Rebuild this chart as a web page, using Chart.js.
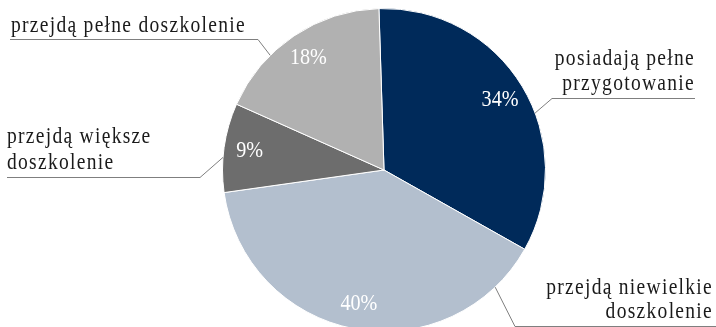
<!DOCTYPE html>
<html>
<head>
<meta charset="utf-8">
<script src="https://cdn.jsdelivr.net/npm/chart.js@4"></script>
<style>
  html, body { margin: 0; padding: 0; overflow: hidden; background: #fff; width: 716px; height: 327px; }
  #wrap { position: relative; width: 716px; height: 340px; }
</style>
</head>
<body>
<div id="wrap"><canvas id="c"></canvas></div>
<script>
// Slices, clockwise from the top
const categories = [
  'posiadają pełne przygotowanie',
  'przejdą niewielkie doszkolenie',
  'przejdą większe doszkolenie',
  'przejdą pełne doszkolenie'
];
const shares = [34, 40, 9, 18];
const labelLines = [
  ['posiadają pełne', 'przygotowanie'],
  ['przejdą niewielkie', 'doszkolenie'],
  ['przejdą większe', 'doszkolenie'],
  ['przejdą pełne doszkolenie']
];
const sliceColors = ['#002a5a', '#b3bfce', '#6d6d6d', '#b1b1b1'];

// Callout layout: where the leader leaves the slice edge (fraction of the slice angle),
// the elbow where it meets the underline, the underline's far end, and the text block.
const callouts = [
  { at: 0.587, elbow: [552, 98],  end: 695, align: 'right', tx: 695, base: [65, 90] },
  { at: 0.12,  elbow: [515, 326], end: 716, align: 'right', tx: 713, base: [294, 318] },
  { at: 0.39,  elbow: [200, 177], end: 7,   align: 'left',  tx: 7,   base: [143, 169] },
  { at: 0.33,  elbow: [258, 39],  end: 10,  align: 'left',  tx: 11,  base: [32] }
];

const SERIF = '"Liberation Serif", "DejaVu Serif", serif';

// draw condensed text: squeeze horizontally around the anchor point
function narrowText(ctx, text, x, y, font, squeeze, spacing, align, baseline) {
  ctx.save();
  ctx.translate(x, y);
  ctx.scale(squeeze, 1);
  ctx.font = font;
  ctx.letterSpacing = spacing;
  ctx.textAlign = align;
  ctx.textBaseline = baseline;
  ctx.fillText(text, 0, 0);
  ctx.restore();
}

const calloutPlugin = {
  id: 'callouts',
  afterDatasetsDraw(chart) {
    const ctx = chart.ctx;
    const meta = chart.getDatasetMeta(0);
    meta.data.forEach((arc, i) => {
      const p = arc.getProps(['x', 'y', 'startAngle', 'endAngle', 'outerRadius'], true);
      const mid = (p.startAngle + p.endAngle) / 2;
      const rl = p.outerRadius * 0.84;

      // value inside the slice
      ctx.fillStyle = '#ffffff';
      narrowText(ctx, shares[i] + '%',
        p.x + Math.cos(mid) * rl, p.y + Math.sin(mid) * rl,
        '24px ' + SERIF, 0.84, '0px', 'center', 'middle');

      // leader line
      const c = callouts[i];
      const a = p.startAngle + (p.endAngle - p.startAngle) * c.at;
      const sx = p.x + Math.cos(a) * p.outerRadius;
      const sy = p.y + Math.sin(a) * p.outerRadius;
      ctx.save();
      ctx.strokeStyle = '#7f7f7f';
      ctx.lineWidth = 1;
      ctx.beginPath();
      ctx.moveTo(sx, sy);
      ctx.lineTo(c.elbow[0], c.elbow[1] + 0.5);
      ctx.lineTo(c.end, c.elbow[1] + 0.5);
      ctx.stroke();
      ctx.restore();

      // category text
      ctx.fillStyle = '#1a1a1a';
      labelLines[i].forEach((line, k) => {
        narrowText(ctx, line, c.tx, c.base[k], '23px ' + SERIF, 0.85, '1.5px', c.align, 'alphabetic');
      });
    });
  }
};

new Chart(document.getElementById('c'), {
  type: 'pie',
  data: {
    labels: categories,
    datasets: [{
      data: shares,
      backgroundColor: sliceColors,
      borderColor: '#ffffff',
      borderWidth: 1
    }]
  },
  options: {
    responsive: true,
    maintainAspectRatio: false,
    animation: false,
    events: [],
    rotation: -1.8,
    layout: { padding: { top: 8, bottom: 8, left: 222, right: 170 } },
    plugins: {
      legend: { display: false },
      tooltip: { enabled: false },
      title: { display: false }
    }
  },
  plugins: [calloutPlugin]
});
</script>
</body>
</html>
